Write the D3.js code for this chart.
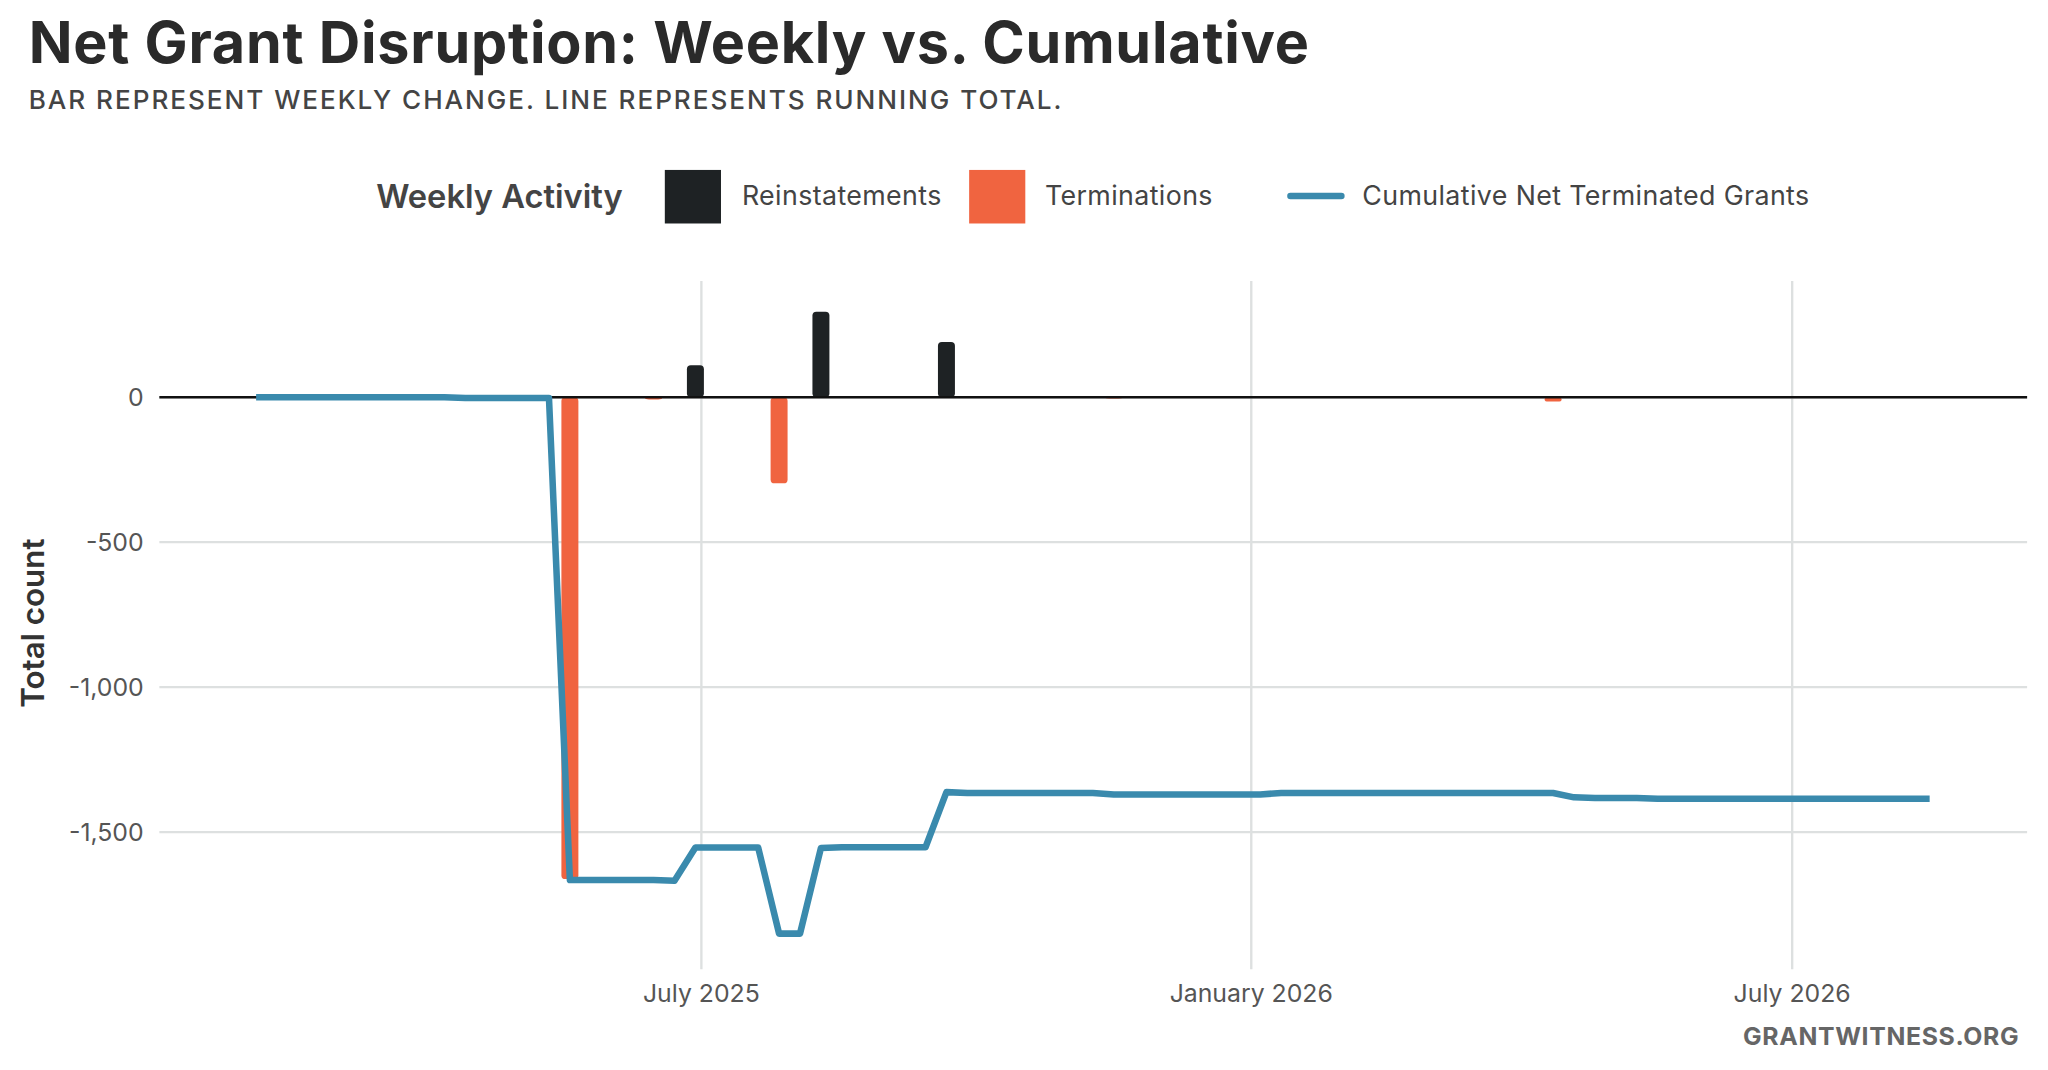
<!DOCTYPE html>
<html><head><meta charset="utf-8">
<script src="https://cdn.jsdelivr.net/npm/d3@7"></script>
<style>body{margin:0;background:#fff}svg{display:block}</style>
</head><body>
<svg id="c" width="2048" height="1070" viewBox="0 0 1568 819"></svg>
<script>
const startDate = "2025-02-02";
const cumulative = [0,0,0,0,0,0,0,0,0,0,-3,-3,-3,-3,-3,-1665,-1665,-1665,-1665,-1665,-1668,-1553,-1553,-1553,-1553,-1850,-1850,-1555,-1552,-1552,-1552,-1552,-1552,-1362,-1365,-1365,-1365,-1365,-1365,-1365,-1365,-1370,-1370,-1370,-1370,-1370,-1370,-1370,-1370,-1365,-1365,-1365,-1365,-1365,-1365,-1365,-1365,-1365,-1365,-1365,-1365,-1365,-1365,-1380,-1382,-1382,-1382,-1385,-1385,-1385,-1385,-1385,-1385,-1385,-1385,-1385,-1385,-1385,-1385,-1385,-1385];
const terminationWeeks = [15,19,25,41,62];
const terminationValues = [-1662,-8,-297,-3,-15];
const reinstatementWeeks = [21,27,33,48];
const reinstatementValues = [110,295,190,3];
const yTicks = [0,-500,-1000,-1500];
const xTicks = ["2025-07-01","2026-01-01","2026-07-01"];
const xTickLabels = ["July 2025","January 2026","July 2026"];

const svg = d3.select("#c");
const font = "Inter, 'Noto Sans', sans-serif";
const parse = d3.utcParse("%Y-%m-%d");
const d0 = parse(startDate);
const wk = i => d3.utcDay.offset(d0, 7*i);

const x = d3.scaleUtc().domain([parse("2025-07-01"), parse("2026-01-01")]).range([537,958]);
const y = d3.scaleLinear().domain([0,-500]).range([304,415]);
const L=122,R=1552,T=215,B=742;

svg.append("text").attr("x",22).attr("y",48).attr("font-family",font).attr("font-weight",700)
  .attr("font-size",44).attr("letter-spacing",0.6).attr("fill","#2a2a2a").text("Net Grant Disruption: Weekly vs. Cumulative");
svg.append("text").attr("x",22).attr("y",83).attr("font-family",font).attr("font-weight",500)
  .attr("font-size",20).attr("letter-spacing",1.5).attr("fill","#444").text("BAR REPRESENT WEEKLY CHANGE. LINE REPRESENTS RUNNING TOTAL.");

const g = svg.append("g");
g.selectAll(".gy").data(yTicks).join("line").attr("x1",L).attr("x2",R)
  .attr("y1",d=>y(d)).attr("y2",d=>y(d)).attr("stroke","#dde0e0").attr("stroke-width",1.8);
g.selectAll(".gx").data(xTicks).join("line").attr("x1",d=>x(parse(d))).attr("x2",d=>x(parse(d)))
  .attr("y1",T).attr("y2",B).attr("stroke","#dde0e0").attr("stroke-width",1.8);
g.selectAll(".ty").data(yTicks).join("text").attr("x",110).attr("y",d=>y(d)+7)
  .attr("text-anchor","end").attr("font-family",font).attr("font-size",19).attr("fill","#555")
  .text(d=>d3.format(",")(d).replace("−","-"));
g.selectAll(".tx").data(xTicks).join("text").attr("x",d=>x(parse(d))).attr("y",767)
  .attr("text-anchor","middle").attr("font-family",font).attr("font-size",19).attr("fill","#555")
  .text((d,i)=>xTickLabels[i]);

const bw=13;
function bars(weeks, vals, color){
  svg.append("g").selectAll("rect").data(weeks.map((w,i)=>({w,v:vals[i]}))).join("rect")
    .attr("x",d=>x(wk(d.w))-bw/2).attr("width",bw)
    .attr("y",d=>Math.min(y(0),y(d.v))).attr("height",d=>Math.max(1,Math.abs(y(d.v)-y(0))))
    .attr("rx",3).attr("fill",color);
}
bars(terminationWeeks, terminationValues, "#f06440");
bars(reinstatementWeeks, reinstatementValues, "#1e2224");

svg.append("line").attr("x1",L).attr("x2",R).attr("y1",y(0)).attr("y2",y(0)).attr("stroke","#111").attr("stroke-width",2);

svg.append("path").datum(cumulative).attr("fill","none").attr("stroke","#3a8aad").attr("stroke-width",5)
  .attr("stroke-linejoin","round")
  .attr("d", d3.line().x((d,i)=>x(wk(i))).y(d=>y(d)));

svg.append("text").attr("transform","translate(34,477) rotate(-90)").attr("text-anchor","middle")
  .attr("font-family",font).attr("font-weight",600).attr("font-size",24).attr("fill","#333").text("Total count");

const lg = svg.append("g").attr("font-family",font);
lg.append("text").attr("x",288).attr("y",159).attr("font-size",25).attr("font-weight",600).attr("fill","#444").text("Weekly Activity");
lg.append("rect").attr("x",509).attr("y",130).attr("width",43).attr("height",41).attr("fill","#1e2224");
lg.append("text").attr("x",568).attr("y",157).attr("font-size",20.5).attr("letter-spacing",0.3).attr("fill","#444").text("Reinstatements");
lg.append("rect").attr("x",742).attr("y",130).attr("width",43).attr("height",41).attr("fill","#f06440");
lg.append("text").attr("x",800).attr("y",157).attr("font-size",20.5).attr("letter-spacing",0.3).attr("fill","#444").text("Terminations");
lg.append("line").attr("x1",988).attr("x2",1027).attr("y1",150).attr("y2",150).attr("stroke","#3a8aad").attr("stroke-width",5).attr("stroke-linecap","round");
lg.append("text").attr("x",1043).attr("y",157).attr("font-size",20.5).attr("letter-spacing",0.3).attr("fill","#444").text("Cumulative Net Terminated Grants");

svg.append("text").attr("x",1546).attr("y",800).attr("text-anchor","end").attr("font-family",font)
  .attr("font-weight",700).attr("font-size",19).attr("letter-spacing",0.5).attr("fill","#666").text("GRANTWITNESS.ORG");
</script></body></html>
